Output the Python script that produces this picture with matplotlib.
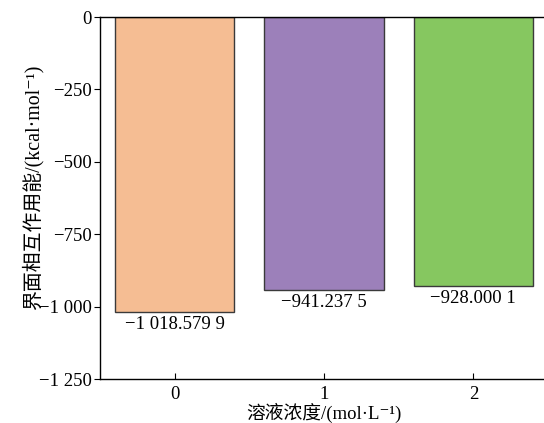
import numpy as np
import matplotlib
matplotlib.use("Agg")
import matplotlib.pyplot as plt

plt.rcParams['font.family'] = ['Liberation Serif', 'Noto Sans CJK SC', 'DejaVu Serif']
plt.rcParams['axes.unicode_minus'] = True

# interfacial interaction energy vs solution concentration
conc = [0, 1, 2]
energy = [-1018.5799, -941.2375, -928.0001]
value_labels = ['\u22121 018.579 9', '\u2212941.237 5', '\u2212928.000 1']
colors = ['#F5BD93', '#9C80BA', '#86C760']
yticks = [0, -250, -500, -750, -1000, -1250]
ytick_labels = ['0', '\u2212250', '\u2212500', '\u2212750', '\u22121 000', '\u22121 250']

fig = plt.figure(figsize=(5.44, 4.23), dpi=100)
ax = fig.add_axes([100/544, 1 - 379/423, 448/544, 362/423])

bars = ax.bar(conc, energy, width=0.8, color=colors, edgecolor='#3a3a3a', linewidth=1)
for x, v, lab in zip(conc, energy, value_labels):
    ax.annotate(lab, (x, v), xytext=(0, -3), textcoords='offset points',
                ha='center', va='top', fontsize=13.5)

ax.set_xlim(-0.5, 2.5)
ax.set_ylim(-1250, 0)
ax.set_xticks(conc)
ax.set_yticks(yticks)
ax.set_yticklabels(ytick_labels)
ax.tick_params(axis='x', direction='in', length=4, labelsize=13.5, pad=5)
ax.tick_params(axis='y', direction='out', length=4, labelsize=13.5, pad=2)
for s in ax.spines.values():
    s.set_linewidth(1)
ax.set_ylabel('界面相互作用能/(kcal·mol\u207b\u00b9)', fontsize=14.3)
ax.yaxis.set_label_coords(-0.125, 0.53)
ax.set_xlabel('溶液浓度/(mol·L\u207b\u00b9)', fontsize=13.5, labelpad=0)

fig.savefig('out.png', dpi=100)
